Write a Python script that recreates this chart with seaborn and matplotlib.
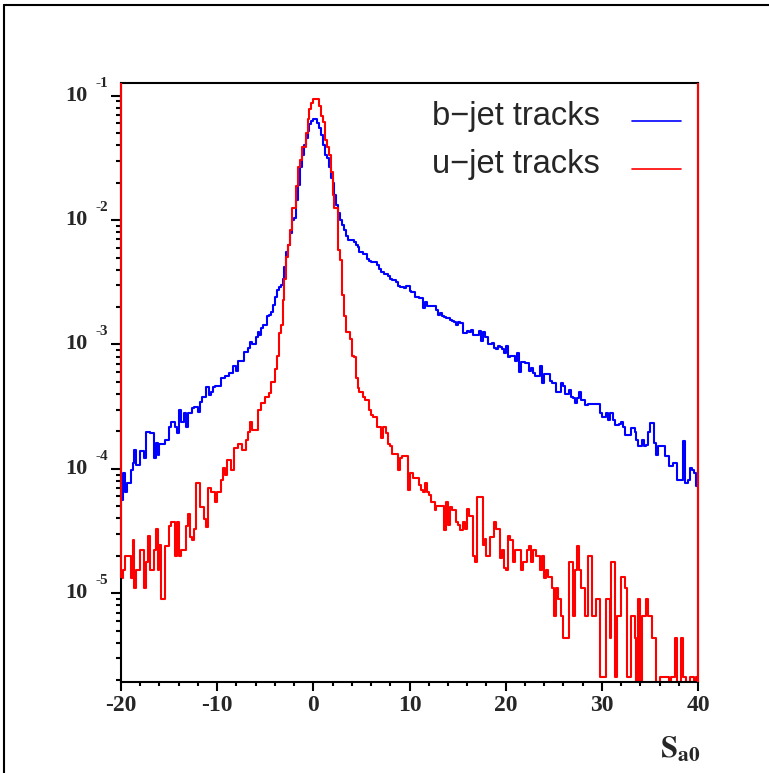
import numpy as np
import pandas as pd
import seaborn as sns
import matplotlib.pyplot as plt
from matplotlib.lines import Line2D
from matplotlib.ticker import MultipleLocator, LogLocator, NullFormatter

############################## data ##############################

# 300 bins of width 0.2 between -20 and 40
s_min, s_max, n_bins = -20.0, 40.0, 300

# log10 of the normalised bin content, one row = one unit of S (5 bins)
b_jet_log = [
    -4.25, -4.03, -4.19, -4.11, -4.11,   # -20
    -4.01, -3.95, -3.85, -3.97, -3.97,
    -3.86, -3.86, -3.91, -3.70, -3.70,
    -3.71, -3.71, -3.91, -3.79, -3.89,
    -3.80, -3.80, -3.80, -3.77, -3.77,   # -16
    -3.66, -3.62, -3.62, -3.66, -3.71,
    -3.53, -3.62, -3.62, -3.55, -3.66,
    -3.55, -3.55, -3.51, -3.50, -3.50,
    -3.54, -3.46, -3.42, -3.42, -3.34,   # -12
    -3.34, -3.41, -3.38, -3.34, -3.33,
    -3.33, -3.33, -3.27, -3.27, -3.25,
    -3.25, -3.23, -3.23, -3.17, -3.17,
    -3.21, -3.13, -3.13, -3.13, -3.06,   # -8
    -3.06, -3.03, -2.98, -3.00, -3.00,
    -2.94, -2.90, -2.92, -2.87, -2.84,
    -2.84, -2.77, -2.76, -2.74, -2.68,
    -2.62, -2.56, -2.54, -2.52, -2.47,   # -4
    -2.38, -2.26, -2.20, -2.10, -2.00,
    -1.98, -1.84, -1.72, -1.57, -1.48,
    -1.40, -1.34, -1.28, -1.23, -1.20,
    -1.19, -1.19, -1.22, -1.26, -1.32,   # 0
    -1.40, -1.48, -1.50, -1.57, -1.66,
    -1.70, -1.80, -1.88, -1.94, -2.00,
    -2.04, -2.08, -2.13, -2.16, -2.16,
    -2.16, -2.18, -2.20, -2.22, -2.26,   # 4
    -2.26, -2.27, -2.27, -2.31, -2.33,
    -2.34, -2.34, -2.34, -2.36, -2.39,
    -2.42, -2.42, -2.43, -2.43, -2.45,
    -2.47, -2.48, -2.48, -2.50, -2.53,   # 8
    -2.54, -2.54, -2.55, -2.53, -2.53,
    -2.57, -2.58, -2.58, -2.62, -2.62,
    -2.63, -2.63, -2.71, -2.66, -2.69,
    -2.69, -2.69, -2.69, -2.69, -2.72,   # 12
    -2.76, -2.75, -2.77, -2.78, -2.79,
    -2.79, -2.80, -2.81, -2.82, -2.84,
    -2.82, -2.83, -2.83, -2.91, -2.91,
    -2.89, -2.90, -2.88, -2.92, -2.92,   # 16
    -2.92, -2.89, -2.97, -2.90, -2.94,
    -2.94, -3.00, -3.00, -2.99, -3.03,
    -3.04, -3.01, -3.02, -3.04, -3.07,
    -3.01, -3.10, -3.09, -3.09, -3.09,   # 20
    -3.13, -3.07, -3.22, -3.14, -3.14,
    -3.15, -3.15, -3.21, -3.19, -3.23,
    -3.25, -3.25, -3.25, -3.17, -3.31,
    -3.24, -3.24, -3.24, -3.29, -3.31,   # 24
    -3.31, -3.38, -3.38, -3.38, -3.31,
    -3.33, -3.40, -3.40, -3.37, -3.42,
    -3.43, -3.47, -3.43, -3.38, -3.45,
    -3.45, -3.49, -3.49, -3.48, -3.48,   # 28
    -3.48, -3.48, -3.48, -3.48, -3.55,
    -3.58, -3.58, -3.55, -3.61, -3.55,
    -3.55, -3.61, -3.65, -3.65, -3.64,
    -3.62, -3.66, -3.73, -3.73, -3.73,   # 32
    -3.67, -3.67, -3.70, -3.77, -3.82,
    -3.82, -3.77, -3.82, -3.81, -3.70,
    -3.63, -3.63, -3.79, -3.89, -3.82,
    -3.82, -3.82, -3.82, -3.90, -3.90,   # 36
    -3.98, -3.98, -3.95, -3.95, -4.09,
    -4.09, -4.09, -3.78, -4.11, -4.11,
    -4.09, -3.99, -4.01, -4.03, -4.14,
]

# None = empty bin
u_jet_log = [
    -4.88, -4.81, -4.70, -4.70, -4.70,   # -20
    -4.88, -4.57, -4.96, -4.81, -4.81,
    -4.65, -4.65, -4.96, -4.75, -4.54,
    -4.81, -4.81, -4.65, -4.48, -4.81,
    -4.61, -5.05, -5.05, -4.62, -4.62,   # -16
    -4.46, -4.43, -4.43, -4.70, -4.43,
    -4.70, -4.65, -4.65, -4.65, -4.46,
    -4.36, -4.55, -4.57, -4.48, -4.11,
    -4.11, -4.31, -4.31, -4.40, -4.47,   # -12
    -4.15, -4.15, -4.19, -4.19, -4.27,
    -4.19, -4.19, -4.09, -3.99, -4.05,
    -3.93, -3.93, -4.01, -4.01, -3.83,
    -3.83, -3.80, -3.80, -3.85, -3.85,   # -8
    -3.77, -3.70, -3.62, -3.69, -3.69,
    -3.69, -3.53, -3.53, -3.47, -3.47,
    -3.42, -3.42, -3.39, -3.30, -3.30,
    -3.20, -3.09, -2.91, -2.84, -2.64,   # -4
    -2.47, -2.30, -2.20, -2.08, -1.90,
    -1.90, -1.73, -1.57, -1.52, -1.41,
    -1.41, -1.30, -1.19, -1.11, -1.06,
    -1.03, -1.03, -1.03, -1.08, -1.16,   # 0
    -1.21, -1.36, -1.41, -1.48, -1.61,
    -1.80, -1.90, -1.90, -2.24, -2.32,
    -2.60, -2.77, -2.90, -2.90, -2.96,
    -3.09, -3.10, -3.27, -3.35, -3.38,   # 4
    -3.38, -3.42, -3.45, -3.45, -3.53,
    -3.57, -3.58, -3.58, -3.66, -3.66,
    -3.75, -3.66, -3.66, -3.71, -3.80,
    -3.82, -3.88, -3.88, -3.88, -4.01,   # 8
    -3.91, -3.90, -3.90, -3.90, -4.17,
    -4.03, -4.03, -4.07, -4.07, -4.07,
    -4.13, -4.17, -4.19, -4.11, -4.19,
    -4.21, -4.27, -4.27, -4.33, -4.30,   # 12
    -4.30, -4.30, -4.30, -4.49, -4.27,
    -4.45, -4.31, -4.33, -4.33, -4.43,
    -4.45, -4.49, -4.49, -4.43, -4.48,
    -4.32, -4.38, -4.38, -4.70, -4.75,   # 16
    -4.23, -4.23, -4.23, -4.61, -4.56,
    -4.70, -4.70, -4.55, -4.55, -4.43,
    -4.48, -4.48, -4.72, -4.65, -4.80,
    -4.81, -4.54, -4.57, -4.57, -4.75,   # 20
    -4.65, -4.65, -4.65, -4.81, -4.75,
    -4.75, -4.65, -4.62, -4.75, -4.65,
    -4.65, -4.70, -4.70, -4.81, -4.70,
    -4.88, -4.81, -4.87, -4.87, -4.96,   # 24
    -5.18, -4.96, -5.05, -5.05, -5.18,
    -5.36, -5.36, -5.36, -4.75, -4.75,
    -5.18, -4.81, -4.62, -4.81, -4.96,
    -4.96, -5.18, -5.18, -4.70, -4.70,   # 28
    -5.18, -5.18, -5.05, -5.05, -5.67,
    -5.67, -5.67, -5.05, -5.05, -5.36,
    -4.75, -4.75, -5.67, -5.18, -5.18,
    -4.87, -4.87, -4.96, -5.67, -5.67,   # 32
    -5.18, -5.18, -5.36, None, -5.05,
    None, -5.18, -5.18, -5.05, -5.18,
    -5.18, -5.36, -5.36, None, None,
    -5.67, -5.67, -5.67, -5.67, -5.67,   # 36
    None, -5.67, -5.67, -5.36, None,
    None, -5.36, -5.67, -5.67, None,
    None, -5.67, -5.67, None, -5.67,
]

legend_labels = ['b\u2212jet tracks', 'u\u2212jet tracks']
y_decades = [-1, -2, -3, -4, -5]

############################## style ##############################

sns.set_style('white')
plt.rcParams['font.family'] = ['Liberation Serif', 'DejaVu Sans']
plt.rcParams['axes.unicode_minus'] = False
plt.rcParams['mathtext.fontset'] = 'stix'

y_low, y_high = 10 ** -5.711, 10 ** -0.898
lw = 1.5

############################## plot ##############################

edges = np.linspace(s_min, s_max, n_bins + 1)
centers = 0.5 * (edges[:-1] + edges[1:])


def to_content(logs):
    # empty bins sit on the bottom of the frame, like ROOT draws them
    return np.array([10.0 ** v if v is not None else y_low for v in logs])


b_df = pd.DataFrame({'S': centers, 'content': to_content(b_jet_log)})
u_df = pd.DataFrame({'S': centers, 'content': to_content(u_jet_log)})

fig = plt.figure(figsize=(7.69, 7.73), dpi=100)
ax = fig.add_axes([121 / 769, 1 - 681.7 / 773, 577 / 769, 598.7 / 773])

bin_list = [float(e) for e in edges]
sns.histplot(data=b_df, x='S', weights='content', bins=bin_list, element='step',
             fill=False, color='#0000ff', linewidth=lw, ax=ax)
sns.histplot(data=u_df, x='S', weights='content', bins=bin_list, element='step',
             fill=False, color='#ff0000', linewidth=lw, ax=ax)

ax.set_yscale('log')
ax.set_xlim(s_min, s_max)
ax.set_ylim(y_low, y_high)

# red histogram edges run up to the top of the frame
u_first = to_content(u_jet_log)[0]
ax.vlines(s_min, u_first, y_high, colors='#ff0000', linewidth=lw, zorder=4, clip_on=False)
ax.vlines(s_max, y_low, y_high, colors='#ff0000', linewidth=lw, zorder=4, clip_on=False)

for side in ['left', 'right', 'top', 'bottom']:
    ax.spines[side].set_visible(True)
    ax.spines[side].set_color('black')
    ax.spines[side].set_linewidth(lw)

ax.set_xlabel('')
ax.set_ylabel('')

# x axis ticks
ax.xaxis.set_major_locator(MultipleLocator(10))
ax.xaxis.set_minor_locator(MultipleLocator(2))
ax.tick_params(axis='x', which='major', bottom=True, direction='out', length=6.5, width=lw,
               pad=3, labelsize=17, color='black')
ax.tick_params(axis='x', which='minor', bottom=True, direction='out', length=3, width=lw,
               color='black')
for lab in ax.get_xticklabels():
    lab.set_fontweight('bold')

# y axis ticks, labels drawn by hand as 10 plus exponent
ax.yaxis.set_major_locator(LogLocator(base=10, numticks=10))
ax.yaxis.set_minor_locator(LogLocator(base=10, subs=np.arange(2, 10), numticks=10))
ax.yaxis.set_minor_formatter(NullFormatter())
ax.tick_params(axis='y', which='major', left=True, direction='out', length=7.2, width=lw,
               labelleft=False, color='black')
ax.tick_params(axis='y', which='minor', left=True, direction='out', length=3.6, width=lw,
               color='black')

for d in y_decades:
    ax.annotate('10', xy=(0, 10.0 ** d), xycoords=('axes fraction', 'data'),
                xytext=(-24, 0), textcoords='offset points', ha='right', va='center',
                fontsize=16, fontweight='bold')
    ax.annotate(str(d), xy=(0, 10.0 ** d), xycoords=('axes fraction', 'data'),
                xytext=(-18.5, 9), textcoords='offset points', ha='left', va='center',
                fontsize=11, fontweight='bold')

# axis title at the lower right
fig.text(700 / 769, 1 - 758 / 773, r'$\mathbf{S}_{\mathbf{a0}}$', ha='right', va='baseline',
         fontsize=22)

# legend
leg_colors = ['#0000ff', '#ff0000']
leg_y = [0.930, 0.850]
for lab, col, yy in zip(legend_labels, leg_colors, leg_y):
    ax.text(0.539, yy, lab, transform=ax.transAxes, ha='left', va='baseline',
            fontsize=23.5, family=['Liberation Sans', 'DejaVu Sans'])
    ax.add_line(Line2D([0.886, 0.971], [yy + 0.006, yy + 0.006], transform=ax.transAxes,
                       color=col, linewidth=1.2))

# canvas border (left and top)
fig.add_artist(Line2D([3.5 / 769, 3.5 / 769], [0, 1 - 5 / 773], color='black', linewidth=lw))
fig.add_artist(Line2D([3.5 / 769, 1], [1 - 5 / 773, 1 - 5 / 773], color='black', linewidth=lw))

fig.savefig('out.png', dpi=100, facecolor='white')
